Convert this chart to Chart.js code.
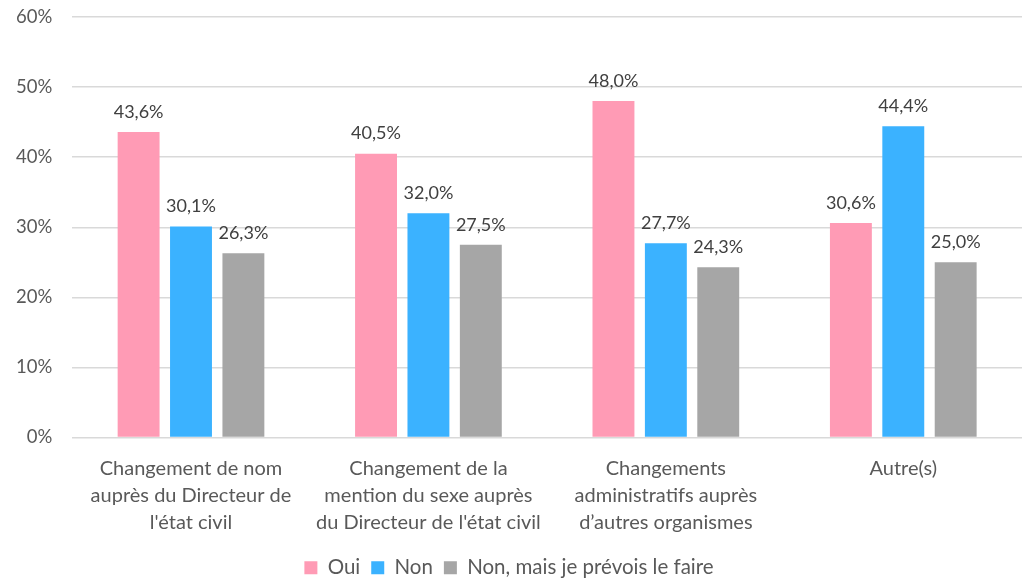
<!DOCTYPE html>
<html>
<head>
<meta charset="utf-8">
<script src="https://cdn.jsdelivr.net/npm/chart.js@4/dist/chart.umd.min.js"></script>
<style>
  html, body { margin: 0; padding: 0; background: #fff; }
  #wrap { width: 1022px; height: 580px; }
</style>
</head>
<body>
<div id="wrap"><canvas id="chart"></canvas></div>
<script>
const categories = [
  ["Changement de nom", "auprès du Directeur de", "l'état civil"],
  ["Changement de la", "mention du sexe auprès", "du Directeur de l'état civil"],
  ["Changements", "administratifs auprès", "d\u2019autres organismes"],
  ["Autre(s)"]
];
const seriesNames = ["Oui", "Non", "Non, mais je prévois le faire"];
const oui = [43.6, 40.5, 48.0, 30.6];
const non = [30.1, 32.0, 27.7, 44.4];
const nonMais = [26.3, 27.5, 24.3, 25.0];
const colors = ["#FF9BB5", "#3BB2FF", "#A6A6A6"];

const fmt = v => v.toFixed(1).replace(".", ",") + "%";

const valueLabels = {
  id: "valueLabels",
  afterDatasetsDraw(chart) {
    const ctx = chart.ctx;
    ctx.save();
    ctx.font = "18px Lato";
    ctx.fillStyle = "#404040";
    ctx.textAlign = "center";
    ctx.textBaseline = "bottom";
    chart.data.datasets.forEach((ds, i) => {
      chart.getDatasetMeta(i).data.forEach((bar, j) => {
        ctx.fillText(fmt(ds.data[j]), bar.x, bar.y - 11);
      });
    });
    ctx.restore();
  }
};

new Chart(document.getElementById("chart"), {
  type: "bar",
  data: {
    labels: categories,
    datasets: [
      { label: seriesNames[0], data: oui, backgroundColor: colors[0] },
      { label: seriesNames[1], data: non, backgroundColor: colors[1] },
      { label: seriesNames[2], data: nonMais, backgroundColor: colors[2] }
    ]
  },
  options: {
    responsive: true,
    maintainAspectRatio: false,
    animation: false,
    layout: { padding: { top: 17, right: 0, left: -4, bottom: -8 } },
    datasets: { bar: { categoryPercentage: 0.662, barPercentage: 0.8 } },
    scales: {
      x: {
        grid: { display: false },
        border: { display: false },
        ticks: {
          color: "#595959",
          font: { family: "Lato", size: 20, lineHeight: 1.35 },
          padding: 10,
          maxRotation: 0,
          autoSkip: false
        }
      },
      y: {
        min: 0,
        max: 60,
        grid: { color: "#D9D9D9", lineWidth: 1.5, drawTicks: false },
        border: { display: false },
        ticks: {
          stepSize: 10,
          color: "#595959",
          font: { family: "Lato", size: 18.5 },
          padding: 20,
          callback: v => v + "%"
        },
        // tick padding would otherwise push the plot top down
        afterFit: s => { s.paddingTop = 0; s.paddingBottom = 0; }
      }
    },
    plugins: {
      tooltip: { enabled: false },
      legend: {
        position: "bottom",
        labels: {
          color: "#595959",
          font: { family: "Lato", size: 20.5 },
          boxWidth: 13,
          boxHeight: 13,
          padding: 11
        }
      }
    }
  },
  plugins: [valueLabels]
});
</script>
</body>
</html>
